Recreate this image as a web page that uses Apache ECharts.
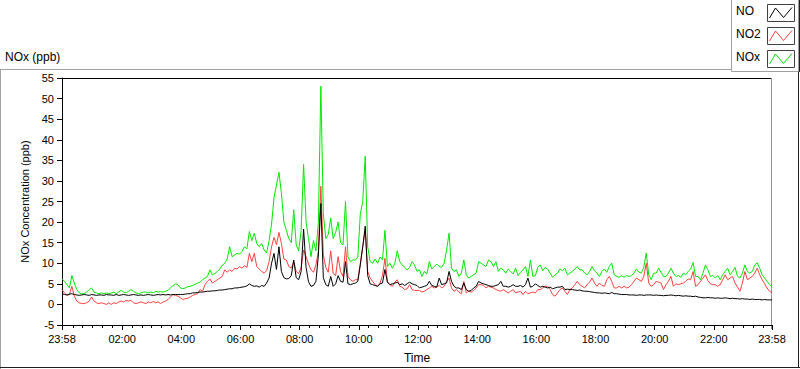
<!DOCTYPE html>
<html>
<head>
<meta charset="utf-8">
<script src="https://cdn.jsdelivr.net/npm/echarts@6/dist/echarts.min.js"></script>
<style>
html,body{margin:0;padding:0;background:#fff;}
#chart{width:800px;height:369px;}
</style>
</head>
<body>
<div id="chart"></div>
<script>
// Time grid: minutes since 00:00, first sample at 23:58 of the previous day (-2), one sample every 5 minutes
const timeStart = -2;
const timeStep = 5;

// NO (ppb)
const noValues = [
2.6,2.4,2.3,2.5,2.6,2.4,2.3,2.2,2.3,2.4, 2.3,2.2,2.4,2.3,2.2,2.3,2.3,2.2,2.4,2.3,
2.3,2.2,2.4,2.2,2.3,2.4,2.3,2.2,2.3,2.4, 2.3,2.2,2.3,2.2,2.3,2.4,2.3,2.2,2.3,2.4,
2.3,2.4,2.3,2.4,2.3,2.4,2.4,2.4,2.4,
2.4,2.5,2.6,2.6,2.8,2.8,2.9,3.0,3.0,3.1, 3.2,3.2,3.3,3.3,3.4,3.5,3.5,3.6,3.7,3.8,
3.8,4.0,4.0,4.1,4.2,4.3,4.5,5.0,4.6,4.4, 4.5,4.2,4.6,4.4,5.2,6.4,10,12.4,8.5,14,
8,6.5,6.2,6.3,7.0,10.8,6.5,6.0,
8,18.3,9,5.5,4.4,4.6,5.6,12,24.5,6.5, 4.8,4.4,6.8,4.4,5.0,7.0,5.6,5.4,10.4,5.0,
4.8,5.0,5.2,5.6,9.6,14,19,7.0,5.0,4.8, 4.6,4.4,5.0,5.2,8.5,5.4,4.8,5.0,5.2,5.4,
4.8,5.0,4.6,5.0,5.4,5.0,4.8,
4.6,4.0,4.2,4.4,4.6,5.6,4.6,4.4,4.2,6.4, 4.8,5.0,5.2,8.0,5.6,4.4,4.0,4.0,3.6,5.2,
3.6,3.2,3.4,4.0,4.4,5.6,5.2,5.0,4.8,4.6, 4.4,4.4,4.6,4.8,5.6,4.4,4.4,4.2,4.4,4.8,
4.4,4.4,4.6,4.2,4.8,6.4,4.2,4.4,
5.0,4.6,4.2,4.4,4.2,4.0,4.2,3.8,4.0,4.2, 4.2,4.4,3.6,3.7,3.6,3.6,3.5,3.4,3.5,3.3,
3.2,3.2,3.1,3.0,2.9,2.8,2.8,2.7,2.8,2.7, 2.6,2.9,2.6,2.6,2.5,2.4,2.4,2.4,2.3,2.3,
2.3,2.2,2.3,2.3,2.2,2.3,2.3,2.3,
2.2,2.3,2.2,2.2,2.1,2.2,2.2,2.3,2.2,2.1, 2.2,2.1,2.0,2.1,2.0,2.0,1.9,2.0,1.8,1.7,
1.6,1.6,1.7,1.6,1.6,1.5,1.6,1.5,1.5,1.6, 1.5,1.4,1.5,1.4,1.4,1.3,1.4,1.3,1.3,1.2,
1.3,1.2,1.2,1.2,1.1,1.2,1.1,1.1,1.1
];

// NO2 (ppb)
const no2Values = [
3.6,2.8,2.2,2.4,4.4,2.0,0.8,0.4,0.2,0.2, 0.4,0.8,1.8,0.8,0.4,0.2,0.4,0.2,0.0,0.4,
0.0,0.4,0.2,0.6,0.8,0.6,1.0,0.8,1.0,0.4, 0.2,0.4,0.6,0.4,0.2,0.6,0.4,0.7,0.4,0.6,
0.2,0.6,0.8,1.2,1.8,2.4,2.2,2.0,1.6,
1.2,1.4,1.5,1.8,2.2,2.4,2.6,3.6,3.2,4.8, 5.6,6.2,5.2,5.6,6.0,6.4,6.8,8.4,7.8,8.4,
8.0,8.8,8.6,9.2,8.8,9.4,9.0,12.4,10.4,12.4, 9.2,8.6,8.0,7.6,8.2,10.4,14,16.3,14.5,17.5,
14.8,11,10.8,9.2,8.8,10.4,8.0,7.5,
9,13.2,11.6,9.8,8.4,7.8,9.6,13,28.7,12, 9,7.8,13,7.5,7.0,11.6,8.0,6.8,14,6.8,
6.0,5.6,6.0,6.0,10,14,18,8.0,6.4,5.6, 4.8,4.4,5.2,7.0,11.2,5.6,4.8,4.4,5.4,6.0,
4.4,4.2,3.6,3.8,4.8,3.6,3.4,
3.4,3.4,3.0,3.2,3.6,4.0,4.4,4.0,4.2,4.6, 4.0,4.4,5.6,6.4,4.0,3.2,3.6,3.0,2.6,5.6,
2.8,3.2,3.0,3.4,4.0,4.8,4.8,4.6,4.0,4.4, 4.2,4.0,3.6,3.4,3.2,3.6,3.2,2.8,3.2,3.6,
2.8,3.0,3.2,2.4,3.2,2.6,2.8,3.0,
2.8,3.6,3.6,4.0,4.4,4.4,3.6,2.4,2.0,2.8, 3.6,4.0,3.2,2.4,3.6,4.0,4.8,5.6,4.8,4.4,
4.0,4.8,5.4,6.4,5.2,4.4,5.2,4.6,4.4,6.0, 6.8,5.6,4.0,4.0,4.4,4.0,4.4,4.0,4.2,4.8,
5.6,6.4,6.0,5.6,6.8,10.0,5.2,4.4,
4.8,5.6,5.4,5.2,3.6,4.8,5.6,6.8,4.4,5.0, 4.8,5.0,5.2,5.6,6.2,6.0,8.0,4.4,4.8,5.6,
6.4,7.2,5.8,5.0,4.8,4.8,4.4,4.8,6.0,7.2, 6.0,6.4,6.8,5.2,4.2,3.2,5.2,8.0,6.0,6.4,
6.8,7.6,8.8,7.2,6.0,5.0,4.0,3.2,2.8
];

// NOx (ppb)
const noxValues = [
6.2,5.6,4.8,4.0,7.0,5.2,3.6,2.8,2.6,2.6, 3.0,3.6,4.0,3.0,2.8,2.6,2.8,2.6,2.8,2.6,
2.8,3.0,2.6,3.0,3.4,3.0,2.8,3.2,3.6,3.2, 2.8,2.6,2.8,3.0,3.0,2.8,3.0,2.8,3.2,3.0,
3.1,3.0,3.2,3.4,4.0,4.6,5.0,4.8,4.0,
3.8,4.0,4.3,4.4,4.6,4.9,5.2,5.4,6.0,6.4, 6.8,8.4,7.2,7.5,8.0,8.6,9.5,10.0,11.0,14.0,
11.6,12.0,12.4,12.2,12.8,14.0,13.5,17.7,15.5,17.3, 14.8,14.0,14.8,13.2,12.5,15.5,19.5,26,29,32.1,
27,20,18,16,15,23,14.5,13,
18,34,20,16,11.6,15.5,13,20,53,22, 16,17,21,16,17.5,20,15,14.5,25,11.5,
10.4,10.8,10.8,11.5,22,25,36,14,10.4,10, 11,10,11.5,10.8,18,9.2,10,8.8,10,13,
10.4,9.6,9,8.4,9,10.4,9.6,
8,8.4,6.8,8.0,7.4,10.4,8.6,9.2,9.8,9.2, 9,10,13.2,17.3,8.8,8.0,8.4,6.8,7.6,10.8,
7.2,6.4,6.8,7.2,7.6,10.4,10.0,9.6,9.2,10.8, 10.4,9.2,10.4,8.0,8.8,8.4,7.6,8.6,8.0,7.4,
8.8,7.0,7.8,8.4,9.2,6.8,10.8,6.8,
7.0,9.0,9.6,8.2,9.0,8.6,7.6,6.6,7.2,7.6, 8.6,8.2,8.8,7.2,7.6,8.0,8.6,9.2,8.4,8.4,
7.6,7.2,8.0,9.2,8.2,7.6,6.8,8.0,8.6,7.8, 9.2,10.0,7.2,6.8,6.6,7.0,6.6,7.0,6.8,7.0,
7.6,8.6,7.8,7.6,9.0,12.5,7.2,6.0,
7.6,7.6,8.8,7.8,6.8,6.8,7.6,8.8,7.6,6.8, 7.0,6.6,7.6,7.2,8.0,8.6,10.2,6.8,6.8,6.0,
7.6,9.6,8.4,6.8,7.0,6.4,7.0,6.0,7.2,8.0, 8.8,7.2,8.0,9.0,6.8,6.4,7.6,9.6,8.0,7.6,
8.0,9.6,10.1,8.8,7.2,6.4,5.6,4.8,4.2
];

// Axis ticks
const xTickValues = [-2,120,240,360,480,600,720,840,960,1080,1200,1320,1438];
const xTickLabels = ['23:58','02:00','04:00','06:00','08:00','10:00','12:00','14:00','16:00','18:00','20:00','22:00','23:58'];
const xMinorStep = 20;
const yMin = -5, yMax = 55, yStep = 5;

const seriesNames = ['NO','NO2','NOx'];
const seriesColors = ['#000000','#ff4040','#00e800'];

function pairs(vals){ return vals.map((v,i)=>[timeStart + timeStep*i, v]); }

const minorTicks = [];
for (let m = xMinorStep; m < 1438; m += xMinorStep) { if (m % 120 !== 0) minorTicks.push(m); }

const chart = echarts.init(document.getElementById('chart'), null, {renderer:'svg'});
const FONT = 'Liberation Sans, Arial, sans-serif';

const gLeft = 62, gTop = 78, gRight = 28, gBottom = 40;
const W = 800, H = 369;

function legendItem(idx, y){
  const bx = 767, bw = 27, bh = 17;
  return [
    {type:'text', left:736, top:y + 1, style:{text:seriesNames[idx], font:'12px ' + FONT, fill:'#000'}},
    {type:'rect', shape:{x:bx+0.5, y:y+0.5, width:bw, height:bh}, style:{fill:'#fff', stroke:'#404040', lineWidth:1}},
    {type:'polyline', shape:{points:[[bx+2.5,y+14],[bx+8.5,y+4],[bx+16.5,y+13.5],[bx+25,y+3.5]]}, style:{stroke:seriesColors[idx], lineWidth:1, fill:null}}
  ];
}

const option = {
  animation:false,
  backgroundColor:'#fff',
  grid:{left:gLeft, right:gRight, top:gTop, bottom:gBottom, show:false},
  xAxis:[{
    type:'value', min:-2, max:1438, position:'bottom',
    name:'Time', nameLocation:'middle', nameGap:27,
    nameTextStyle:{fontFamily:FONT, fontSize:12, color:'#000'},
    axisLine:{show:true, onZero:false, lineStyle:{color:'#000', width:1}},
    axisTick:{show:true, customValues:xTickValues, length:5, lineStyle:{color:'#000', width:1}},
    axisLabel:{show:true, customValues:xTickValues, margin:8, fontFamily:FONT, fontSize:11, color:'#000',
      formatter:function(v){ const k = xTickValues.indexOf(v); return k >= 0 ? xTickLabels[k] : ''; }},
    splitLine:{show:false}
  },{
    type:'value', min:-2, max:1438, position:'bottom', offset:0,
    axisLine:{show:false, onZero:false},
    axisTick:{show:true, customValues:minorTicks, length:3, lineStyle:{color:'#000', width:1}},
    axisLabel:{show:false},
    splitLine:{show:false}
  }],
  yAxis:{
    type:'value', min:yMin, max:yMax, interval:yStep,
    name:'NOx Concentration (ppb)', nameLocation:'middle', nameGap:26, nameRotate:90,
    nameTextStyle:{fontFamily:FONT, fontSize:11, color:'#000'},
    axisLine:{show:true, onZero:false, lineStyle:{color:'#000', width:1}},
    axisTick:{show:true, length:5, lineStyle:{color:'#000'}},
    axisLabel:{margin:8, fontFamily:FONT, fontSize:11, color:'#000'},
    splitLine:{show:false}
  },
  series:[
    {name:'NOx', type:'line', data:pairs(noxValues), showSymbol:false, symbol:'none', lineStyle:{color:seriesColors[2], width:1}, itemStyle:{color:seriesColors[2]}, z:2},
    {name:'NO2', type:'line', data:pairs(no2Values), showSymbol:false, symbol:'none', lineStyle:{color:seriesColors[1], width:1}, itemStyle:{color:seriesColors[1]}, z:3},
    {name:'NO', type:'line', data:pairs(noValues), showSymbol:false, symbol:'none', lineStyle:{color:seriesColors[0], width:1}, itemStyle:{color:seriesColors[0]}, z:4}
  ],
  graphic:[
    // outer frame
    {type:'line', shape:{x1:0, y1:69.5, x2:731, y2:69.5}, style:{stroke:'#a0a0a0', lineWidth:1}},
    {type:'line', shape:{x1:0.5, y1:69.5, x2:0.5, y2:H}, style:{stroke:'#a0a0a0', lineWidth:1}},
    {type:'line', shape:{x1:0, y1:367.5, x2:W, y2:367.5}, style:{stroke:'#202020', lineWidth:1}},
    {type:'line', shape:{x1:798.5, y1:71, x2:798.5, y2:368}, style:{stroke:'#202020', lineWidth:1}},
    // plot frame top and right
    {type:'line', shape:{x1:gLeft, y1:gTop+0.5, x2:W-gRight, y2:gTop+0.5}, style:{stroke:'#000', lineWidth:1}},
    {type:'line', shape:{x1:W-gRight-0.5, y1:gTop, x2:W-gRight-0.5, y2:H-gBottom}, style:{stroke:'#909090', lineWidth:1}},
    // chart label
    {type:'text', left:5, top:51, style:{text:'NOx (ppb)', font:'12px ' + FONT, fill:'#000'}},
    // legend box
    {type:'rect', shape:{x:731.5, y:-1, width:67, height:72.5}, style:{fill:'#fff', stroke:'#a0a0a0', lineWidth:1}},
    {type:'line', shape:{x1:799.5, y1:0, x2:799.5, y2:72}, style:{stroke:'#202020', lineWidth:1}},
    ...legendItem(0, 4),
    ...legendItem(1, 27),
    ...legendItem(2, 50)
  ]
};
chart.setOption(option);
</script>
</body>
</html>
